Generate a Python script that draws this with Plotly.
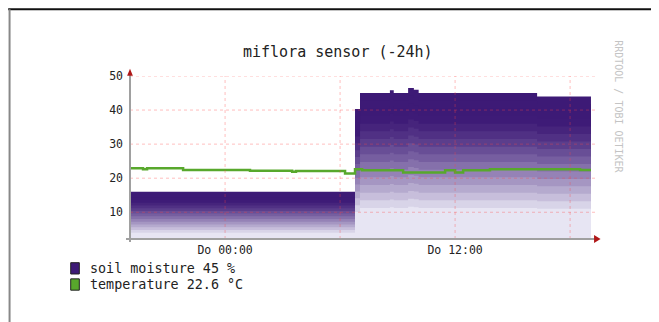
import plotly.graph_objects as go

# ---- data (hours relative to "Do 00:00") ----
moisture_t = [-4.96, 6.78, 7.04, 8.60, 8.80, 9.55, 9.85, 10.10, 16.28, 19.09]
moisture_v = [16.0, 40.3, 45.0, 45.8, 45.0, 46.5, 46.0, 45.0, 44.0, 44.0]

temp_t = [-4.96, -4.28, -4.07, -2.19, 1.30, 3.50, 3.70, 6.26, 6.78, 7.15,
          9.29, 11.48, 12.0, 12.42, 13.82, 18.52, 19.09]
temp_v = [22.9, 22.6, 22.9, 22.4, 22.2, 21.9, 22.1, 21.4, 22.6, 22.3,
          21.7, 22.3, 21.7, 22.3, 22.6, 22.4, 22.4]

x_tick_vals = [0, 12]
x_tick_text = ["Do 00:00", "Do 12:00"]
y_tick_vals = [10, 20, 30, 40, 50]
grid_x = [0, 6, 12, 18]
grid_y = [10, 20, 30, 40, 50]

title_text = "miflora sensor (-24h)"
legend_labels = ["soil moisture 45 %", "temperature 22.6 °C"]
watermark = "RRDTOOL / TOBI OETIKER"

# ---- styling ----
FONT = "DejaVu Sans Mono"
DARK = (61, 26, 118)
LIGHT = (231, 229, 243)
GREEN = "#58a82c"
GRID = "rgba(255,70,70,0.35)"

def shade(f):
    t = (0.86 - f) / 0.60
    t = max(0.0, min(1.0, t)) ** 1.3
    c = [round(DARK[i] + (LIGHT[i] - DARK[i]) * t) for i in range(3)]
    return "rgb(%d,%d,%d)" % tuple(c)

fig = go.Figure()
fractions = [1.0 - 0.05 * i for i in range(20)]
for f in fractions:
    fig.add_trace(go.Scatter(
        x=moisture_t, y=[v * f for v in moisture_v], mode="lines",
        line=dict(width=0, shape="hv"), fill="tozeroy", fillcolor=shade(f),
        hoverinfo="skip", showlegend=False))

fig.add_trace(go.Scatter(x=temp_t, y=temp_v, mode="lines",
                         line=dict(color=GREEN, width=2.5, shape="hv"),
                         showlegend=False))

shapes = []
for gx in grid_x:
    shapes.append(dict(type="line", xref="x", yref="paper", x0=gx, x1=gx, y0=0, y1=1,
                       line=dict(color=GRID, width=1, dash="dot"), layer="above"))
for gy in grid_y:
    shapes.append(dict(type="line", xref="paper", yref="y", x0=0, x1=1, y0=gy, y1=gy,
                       line=dict(color=GRID, width=1, dash="dot"), layer="above"))

# axes lines + arrows
shapes.append(dict(type="line", xref="paper", yref="paper", x0=0, x1=0, y0=-0.0184, y1=1.03,
                   line=dict(color="#a0a0a0", width=2), layer="above"))
shapes.append(dict(type="line", xref="paper", yref="paper", x0=-0.0086, x1=1.0, y0=0, y1=0,
                   line=dict(color="#a0a0a0", width=2), layer="above"))
shapes.append(dict(type="path", xref="paper", yref="paper",
                   path="M -0.0062,1.002 L 0.0062,1.002 L 0,1.045 Z",
                   fillcolor="#b01818", line=dict(width=0), layer="above"))
shapes.append(dict(type="path", xref="paper", yref="paper",
                   path="M 0.998,-0.025 L 0.998,0.025 L 1.012,0 Z",
                   fillcolor="#b01818", line=dict(width=0), layer="above"))

# frame
shapes.append(dict(type="line", xref="paper", yref="paper", x0=-0.262, x1=1.2, y0=1.41, y1=1.41,
                   line=dict(color="#111111", width=2), layer="above"))
shapes.append(dict(type="line", xref="paper", yref="paper", x0=-0.259, x1=-0.259, y0=1.41, y1=-0.6,
                   line=dict(color="#888888", width=2), layer="above"))

# legend squares
shapes.append(dict(type="rect", xref="paper", yref="paper", x0=-0.1275, x1=-0.109,
                   y0=-0.1454, y1=-0.2147, fillcolor="rgb(61,26,118)",
                   line=dict(color="#222222", width=1)))
shapes.append(dict(type="rect", xref="paper", yref="paper", x0=-0.1275, x1=-0.109,
                   y0=-0.2445, y1=-0.3140, fillcolor=GREEN,
                   line=dict(color="#222222", width=1)))

annotations = [
    dict(text=title_text, xref="paper", yref="paper", x=0.447, y=1.147,
         showarrow=False, font=dict(family=FONT, size=15, color="#222222"),
         xanchor="center", yanchor="middle"),
    dict(text=watermark, xref="paper", yref="paper", x=1.049, y=0.81, textangle=90,
         showarrow=False, font=dict(family=FONT, size=10, color="#c4c4c4"),
         xanchor="center", yanchor="middle"),
    dict(text=legend_labels[0], xref="paper", yref="paper", x=-0.0897, y=-0.18,
         showarrow=False, font=dict(family=FONT, size=13.4, color="#222222"),
         xanchor="left", yanchor="middle"),
    dict(text=legend_labels[1], xref="paper", yref="paper", x=-0.0897, y=-0.279,
         showarrow=False, font=dict(family=FONT, size=13.4, color="#222222"),
         xanchor="left", yanchor="middle"),
]

fig.update_layout(
    width=651, height=314,
    margin=dict(l=122, r=64, t=68, b=83),
    paper_bgcolor="white", plot_bgcolor="white",
    shapes=shapes, annotations=annotations, showlegend=False,
    xaxis=dict(range=[-4.96, 19.30], tickvals=x_tick_vals, ticktext=x_tick_text,
               showgrid=False, zeroline=False, showline=False, ticks="",
               tickfont=dict(family=FONT, size=11.5, color="#222222"),
               ticklabelstandoff=2),
    yaxis=dict(range=[2.15, 50], tickvals=y_tick_vals, showgrid=False, zeroline=False,
               showline=False, ticks="",
               tickfont=dict(family=FONT, size=11.5, color="#222222"),
               ticklabelstandoff=6),
)

fig.write_html("out.html")
